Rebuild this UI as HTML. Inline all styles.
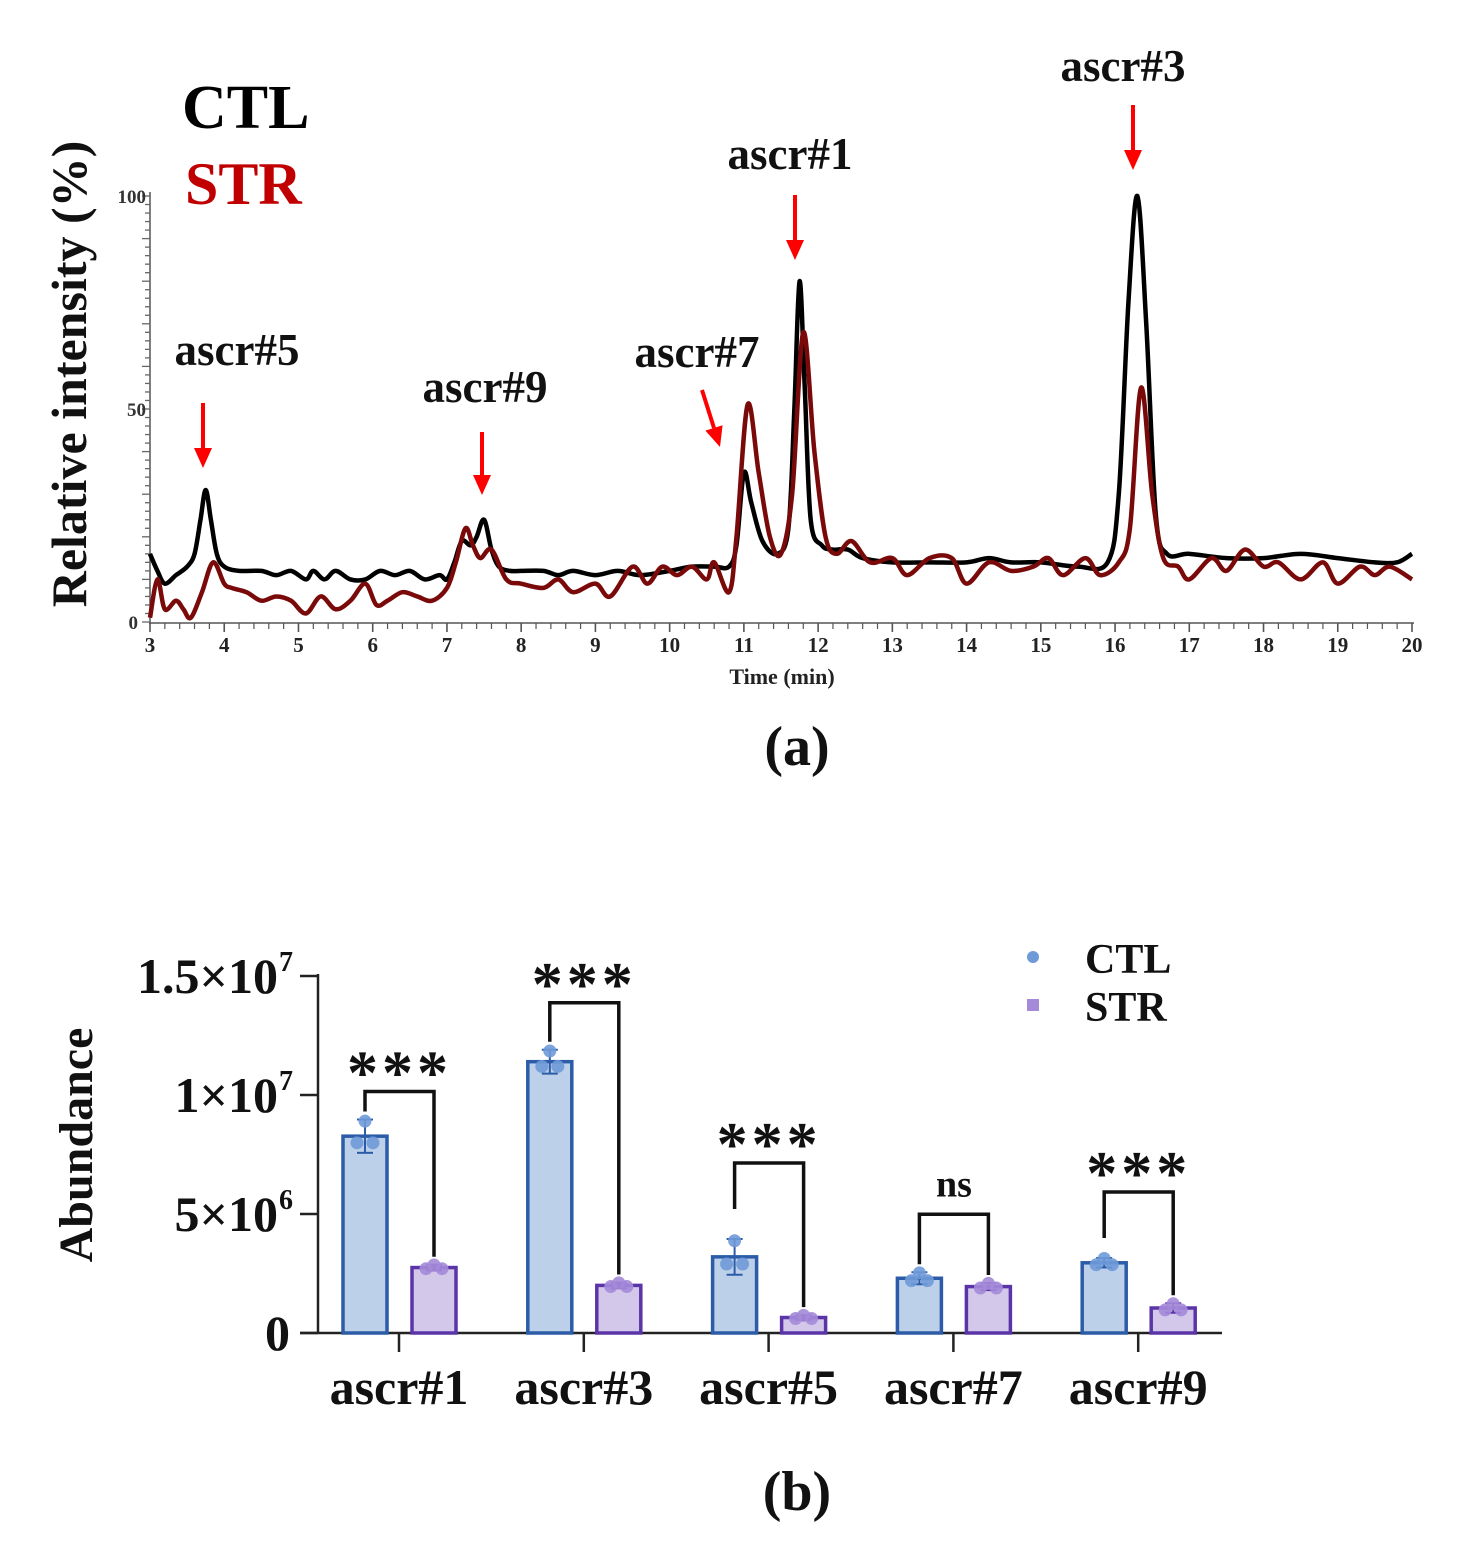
<!DOCTYPE html>
<html><head><meta charset="utf-8"><style>
body{margin:0;background:#fff;}
svg{display:block;font-family:"Liberation Serif",serif;font-weight:bold;}
</style></head><body>
<svg id="fig" width="1473" height="1550" viewBox="0 0 1473 1550" xmlns="http://www.w3.org/2000/svg">
<g id="chartA"></g>
<g id="chartB"></g>
</svg>
<script>
// ---------- Panel (a) data ----------
const ctlTimes = [3.0,3.1,3.2,3.35,3.5,3.6,3.68,3.75,3.82,3.9,4.0,4.2,4.5,4.7,4.9,5.1,5.2,5.35,5.5,5.7,5.9,6.1,6.3,6.5,6.7,6.9,7.0,7.1,7.2,7.32,7.4,7.5,7.6,7.7,7.85,8.0,8.3,8.5,8.7,9.0,9.3,9.6,10.0,10.3,10.6,10.8,10.9,11.0,11.1,11.25,11.45,11.6,11.68,11.75,11.82,11.9,12.05,12.2,12.4,12.6,13.0,13.5,14.0,14.3,14.6,15.0,15.5,15.9,16.05,16.18,16.3,16.42,16.55,16.7,17.0,17.5,18.0,18.5,19.0,19.5,19.8,20.0];
const ctlValues = [16,12,9,11,13,16,24,31,24,16,13,12,12,11,12,10,12,10,12,10,10,12,11,12,10,11,10,14,19,18,20,24,17,13,12,12,12,11,12,11,12,11,12,13,13,13,18,35,28,19,16,22,50,80,55,24,18,17,17,15,14,14,14,15,14,14,13,14,30,75,100,70,25,16,16,15,15,16,15,14,14,16];
const strTimes = [3.0,3.1,3.2,3.35,3.45,3.55,3.7,3.85,4.0,4.1,4.3,4.5,4.7,4.9,5.1,5.3,5.5,5.7,5.9,6.05,6.2,6.4,6.6,6.8,7.0,7.12,7.25,7.35,7.45,7.6,7.8,8.0,8.3,8.5,8.7,9.0,9.2,9.5,9.7,9.9,10.1,10.3,10.5,10.6,10.8,10.9,11.05,11.2,11.35,11.5,11.65,11.8,11.95,12.1,12.25,12.45,12.7,13.0,13.2,13.5,13.8,14.0,14.3,14.6,14.9,15.1,15.3,15.6,15.8,16.05,16.2,16.35,16.5,16.65,16.85,17.0,17.3,17.5,17.75,18.0,18.2,18.5,18.8,19.0,19.3,19.5,19.7,20.0];
const strValues = [1,10,3,5,3,1,7,14,9,8,7,5,6,5,2,6,3,5,9,4,5,7,6,5,8,14,22,18,15,17,10,9,8,10,7,9,6,13,9,13,11,13,10,14,7,20,51,35,20,16,30,68,40,20,16,19,14,15,11,15,15,9,14,12,13,15,11,15,11,14,22,55,30,15,13,10,15,12,17,13,14,10,14,9,13,11,13,10];
const xTickLabels = [3,4,5,6,7,8,9,10,11,12,13,14,15,16,17,18,19,20];
const yTickLabels = [0,50,100];
const peakNames = ["ascr#5","ascr#9","ascr#7","ascr#1","ascr#3"];

// ---------- Panel (b) data ----------
const categories = ["ascr#1","ascr#3","ascr#5","ascr#7","ascr#9"];
const ctlMeans = [8.27e6,11.4e6,3.2e6,2.3e6,2.95e6];
const ctlSD = [0.7e6,0.5e6,0.75e6,0.25e6,0.2e6];
const strMeans = [2.75e6,2.0e6,0.65e6,1.95e6,1.05e6];
const strSD = [0.12e6,0.12e6,0.1e6,0.15e6,0.2e6];
const sigLabels = ["***","***","***","ns","***"];
const bTickValues = [0,5e6,1e7,1.5e7];
const bTickMant = ["0","5×10","1×10","1.5×10"];
const bTickExp = ["","6","7","7"];

const NS="http://www.w3.org/2000/svg";
function mk(tag,attrs,parent,text){const e=document.createElementNS(NS,tag);for(const k in attrs)e.setAttribute(k,attrs[k]);if(text!==undefined)e.textContent=text;parent.appendChild(e);return e;}

// ===== Panel (a) =====
const A=document.getElementById('chartA');
const ax=t=>150+(t-3)*(1412-150)/17;
const ay=v=>622-v*4.26;
function smoothPath(ts,vs){
  const p=ts.map((t,i)=>[ax(t),ay(vs[i])]);
  let d=`M${p[0][0]},${p[0][1]}`;
  for(let i=0;i<p.length-1;i++){
    const p0=p[i-1]||p[i],p1=p[i],p2=p[i+1],p3=p[i+2]||p2;
    const c1=[p1[0]+(p2[0]-p0[0])/6,p1[1]+(p2[1]-p0[1])/6];
    const c2=[p2[0]-(p3[0]-p1[0])/6,p2[1]-(p3[1]-p1[1])/6];
    d+=` C${c1[0]},${c1[1]} ${c2[0]},${c2[1]} ${p2[0]},${p2[1]}`;
  }
  return d;
}
let e;
e=mk('line',{x1:150,y1:192,x2:150,y2:624,stroke:'#555','stroke-width':1.5},A);

e=mk('line',{x1:149,y1:623,x2:1414,y2:623,stroke:'#555','stroke-width':1.5},A);

for(let v=0;v<=100;v+=2){mk('line',{x1:v%10===0?142:145,y1:ay(v),x2:150,y2:ay(v),stroke:'#666','stroke-width':1.3},A);}
for(let t=3;t<=20.001;t+=0.2){const maj=Math.abs(t-Math.round(t))<0.01;mk('line',{x1:ax(t),y1:623,x2:ax(t),y2:maj?632:629,stroke:'#555','stroke-width':maj?1.6:1.2},A);}
xTickLabels.forEach(t=>{e=mk('text',{x:ax(t),y:652,'font-size':21,'text-anchor':'middle',fill:'#222'},A,String(t));
});
yTickLabels.forEach(v=>{e=mk('text',{x:v===0?138:146,y:ay(v)+7,'font-size':19,'text-anchor':'end',fill:'#333'},A,String(v));
});
e=mk('text',{x:782,y:684,'font-size':22,'text-anchor':'middle',fill:'#222'},A,'Time (min)');

e=mk('text',{x:0,y:0,'font-size':50,'text-anchor':'middle',fill:'#111',transform:'translate(86,374) rotate(-90)'},A,'Relative intensity (%)');

e=mk('path',{d:smoothPath(ctlTimes,ctlValues),fill:'none',stroke:'#000','stroke-width':4.5,'stroke-linejoin':'round'},A);

e=mk('path',{d:smoothPath(strTimes,strValues),fill:'none',stroke:'#7a0a0a','stroke-width':4.5,'stroke-linejoin':'round'},A);

e=mk('text',{x:182,y:128,'font-size':62,fill:'#000'},A,'CTL');

e=mk('text',{x:185,y:204,'font-size':60,fill:'#c00000'},A,'STR');

const ann=[[237,365,203,403,203,468],[485,402,482,432,482,495],[697,367,702,390,720,447],[790,169,795,195,795,260],[1123,81,1133,105,1133,170]];
ann.forEach((a,i)=>{
  e=mk('text',{x:a[0],y:a[1],'font-size':45,'text-anchor':'middle',fill:'#111'},A,peakNames[i]);
  
  const dx=a[4]-a[2],dy=a[5]-a[3],L=Math.hypot(dx,dy),ux=dx/L,uy=dy/L;
  const bx=a[4]-ux*20,by=a[5]-uy*20;
  mk('line',{x1:a[2],y1:a[3],x2:bx,y2:by,stroke:'#ff0000','stroke-width':4},A);
  e=mk('polygon',{points:`${a[4]},${a[5]} ${bx-uy*9},${by+ux*9} ${bx+uy*9},${by-ux*9}`,fill:'#ff0000'},A);
  
});
e=mk('text',{x:797,y:765,'font-size':56,'text-anchor':'middle',fill:'#111'},A,'(a)');


// ===== Panel (b) =====
const B=document.getElementById('chartB');
const by0=1333,pxPer=(1333-1095)/1e7;
const byv=v=>by0-v*pxPer;
const bx=i=>399+i*184.8;
const bracketGap=[28,47,76,58,66];
e=mk('line',{x1:318,y1:974,x2:318,y2:1334,stroke:'#222','stroke-width':2.5},B);

e=mk('line',{x1:300,y1:1333,x2:1222,y2:1333,stroke:'#222','stroke-width':2.5},B);

bTickValues.forEach((v,i)=>{
  mk('line',{x1:300,y1:byv(v),x2:318,y2:byv(v),stroke:'#222','stroke-width':2.5},B);
  const t=mk('text',{x:i===0?290:278,y:byv(v)+17,'font-size':50,'text-anchor':'end',fill:'#111'},B,bTickMant[i]);
  
  if(bTickExp[i]){const s=mk('text',{x:279,y:byv(v)-5,'font-size':28,fill:'#111'},B,bTickExp[i]);
  }
});
e=mk('text',{x:0,y:0,'font-size':48,'text-anchor':'middle',fill:'#111',transform:'translate(92,1145) rotate(-90)'},B,'Abundance');

categories.forEach((c,i)=>{
  const cx=bx(i);
  mk('line',{x1:cx,y1:1333,x2:cx,y2:1352,stroke:'#222','stroke-width':2.5},B);
  e=mk('text',{x:cx,y:1404,'font-size':50,'text-anchor':'middle',fill:'#111'},B,c);
  
  const xc=cx-34,xs=cx+35,w=44;
  e=mk('rect',{x:xc-w/2,y:byv(ctlMeans[i]),width:w,height:by0-byv(ctlMeans[i]),fill:'#bcd0ea',stroke:'#2c5ca8','stroke-width':3.5},B);
  
  e=mk('rect',{x:xs-w/2,y:byv(strMeans[i]),width:w,height:by0-byv(strMeans[i]),fill:'#d4c8ea',stroke:'#5b35a8','stroke-width':3.5},B);
  
  [[xc,ctlMeans[i],ctlSD[i],'#2c5ca8','#6f9ad8'],[xs,strMeans[i],strSD[i],'#5b35a8','#a48ad8']].forEach(([x,m,sd,col,dot])=>{
    mk('line',{x1:x,y1:byv(m+sd),x2:x,y2:byv(m-sd),stroke:col,'stroke-width':2},B);
    mk('line',{x1:x-8,y1:byv(m+sd),x2:x+8,y2:byv(m+sd),stroke:col,'stroke-width':2},B);
    mk('line',{x1:x-8,y1:byv(m-sd),x2:x+8,y2:byv(m-sd),stroke:col,'stroke-width':2},B);
    [-8,0,8].forEach((o,k)=>{const v=m+(k===1?sd*0.9:-sd*0.4);
      e=mk('circle',{cx:x+o,cy:byv(v),r:6.5,fill:dot,opacity:0.9},B);
      });
  });
  const ctlTop=byv(ctlMeans[i]+ctlSD[i]);
  const top=ctlTop-bracketGap[i];
  const lt=ctlTop-(i===2?30:(i===4?20:8)), rt=byv(strMeans[i]+strSD[i])-8;
  e=mk('path',{d:`M${xc},${lt} V${top} H${xs} V${rt}`,fill:'none',stroke:'#111','stroke-width':3.5},B);
  
  e=mk('text',{x:(xc+xs)/2,y:sigLabels[i]==='ns'?top-18:top+2,'font-size':sigLabels[i]==='ns'?38:62,'text-anchor':'middle',fill:'#111','letter-spacing':sigLabels[i]==='ns'?0:4},B,sigLabels[i]);
  
});
e=mk('circle',{cx:1033,cy:957,r:6,fill:'#6f9ad8'},B);

e=mk('text',{x:1085,y:973,'font-size':42,fill:'#111'},B,'CTL');

e=mk('rect',{x:1027,y:999,width:12,height:12,fill:'#a48ad8'},B);

e=mk('text',{x:1085,y:1021,'font-size':42,fill:'#111'},B,'STR');

e=mk('text',{x:797,y:1510,'font-size':56,'text-anchor':'middle',fill:'#111'},B,'(b)');

</script>
</body></html>
